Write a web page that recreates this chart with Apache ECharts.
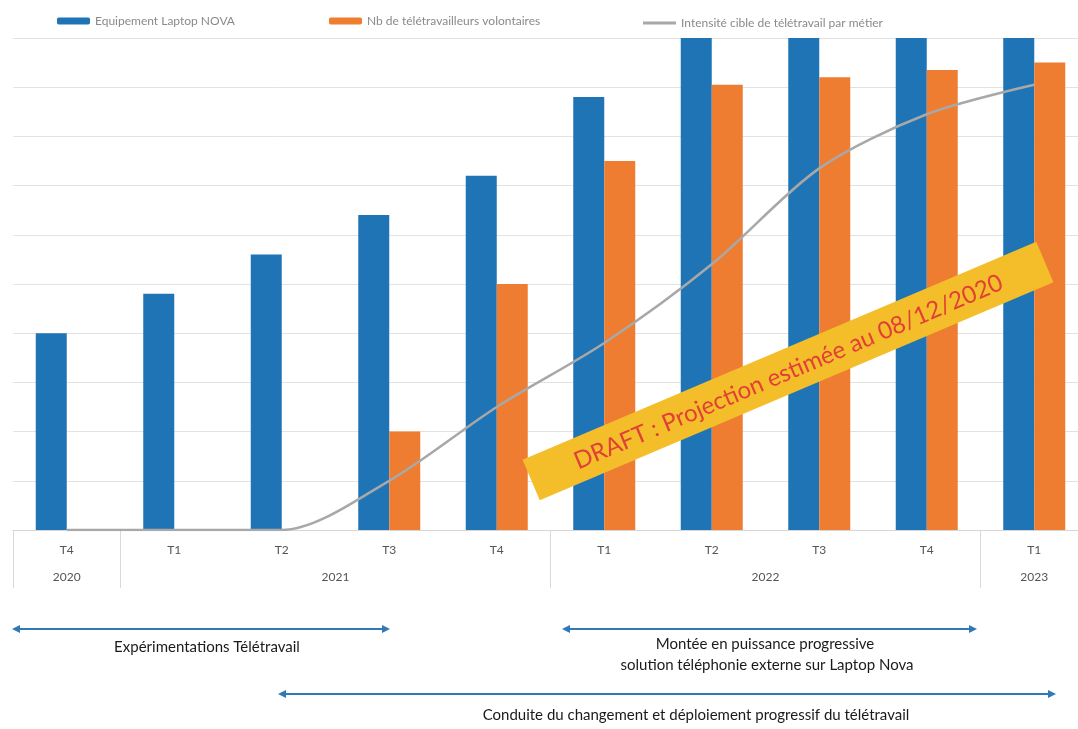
<!DOCTYPE html>
<html>
<head>
<meta charset="utf-8">
<script src="https://cdn.jsdelivr.net/npm/echarts@6/dist/echarts.min.js"></script>
<style>
  html, body { margin: 0; padding: 0; background: #fff; }
  #chart { width: 1078px; height: 729px; }
</style>
</head>
<body>
<div id="chart"></div>
<script>
// trimestres (axe du bas)
const quarters = ['T4', 'T1', 'T2', 'T3', 'T4', 'T1', 'T2', 'T3', 'T4', 'T1'];
// ligne des années : 21 demi-pas, libellé au centre de chaque groupe
const yearLabels = ['', '2020', '', '', '', '', '2021', '', '', '', '', '', '', '', '2022', '', '', '', '', '2023', ''];
const yearBounds = [0, 2, 10, 18, 20];

// valeurs (échelle 0-10, les 4 dernières barres bleues dépassent le cadre)
const laptopNova = [4.0, 4.8, 5.6, 6.4, 7.2, 8.8, 10.4, 12.0, 13.6, 15.2];
const volontaires = [null, null, null, 2.0, 5.0, 7.5, 9.05, 9.2, 9.35, 9.5];
const intensite = [0, 0, 0, 1.0, 2.5, 3.8, 5.4, 7.35, 8.45, 9.05];

const seriesNames = [
  'Equipement Laptop NOVA',
  'Nb de télétravailleurs volontaires',
  'Intensité cible de télétravail par métier'
];

const BLUE = '#1f74b6';
const ORANGE = '#ee7d31';
const GREY_LINE = '#a8a8a8';
const ARROW = '#2f79b8';
const FONT = 'Lato, "Open Sans", sans-serif';

// flèche double pour les phases
function arrow(x1, x2, y) {
  return {
    type: 'group',
    children: [
      { type: 'line', shape: { x1: x1 + 5, y1: y, x2: x2 - 5, y2: y }, style: { stroke: ARROW, lineWidth: 2 } },
      { type: 'polygon', shape: { points: [[x1, y], [x1 + 8, y - 4], [x1 + 8, y + 4]] }, style: { fill: ARROW } },
      { type: 'polygon', shape: { points: [[x2, y], [x2 - 8, y - 4], [x2 - 8, y + 4]] }, style: { fill: ARROW } }
    ]
  };
}

function label(text, x, y) {
  return {
    type: 'text',
    x: x,
    y: y,
    style: { text: text, fill: '#1a1a1a', font: '15px ' + FONT, align: 'center', verticalAlign: 'middle' }
  };
}

const legendBase = {
  top: 10,
  itemWidth: 33,
  itemHeight: 7,
  textStyle: { color: '#8a8a8a', fontSize: 12, fontFamily: FONT }
};

const chart = echarts.init(document.getElementById('chart'));

const option = {
  backgroundColor: '#fff',
  animation: false,
  legend: [
    Object.assign({}, legendBase, { left: 52, data: [seriesNames[0]] }),
    Object.assign({}, legendBase, { left: 324, data: [seriesNames[1]] }),
    Object.assign({}, legendBase, { left: 638, top: 12, itemHeight: 3, data: [{ name: seriesNames[2], icon: 'rect' }] })
  ],
  grid: {
    left: 13,
    width: 1075,
    top: 38,
    height: 492,
    outerBoundsMode: 'none'
  },
  xAxis: [
    {
      type: 'category',
      data: quarters,
      position: 'bottom',
      axisLine: { lineStyle: { color: '#d6d6d6', width: 1 } },
      axisTick: { show: false },
      axisLabel: { margin: 14, color: '#555', fontSize: 12, fontFamily: FONT }
    },
    {
      type: 'category',
      data: yearLabels,
      boundaryGap: false,
      position: 'bottom',
      axisLine: { show: false },
      axisTick: {
        show: true,
        length: 58,
        interval: (idx) => yearBounds.includes(idx),
        lineStyle: { color: '#d9d9d9', width: 1 }
      },
      axisLabel: { interval: 0, margin: 41, color: '#555', fontSize: 12, fontFamily: FONT }
    }
  ],
  yAxis: {
    type: 'value',
    min: 0,
    max: 10,
    interval: 1,
    axisLine: { show: false },
    axisTick: { show: false },
    axisLabel: { show: false },
    splitLine: { lineStyle: { color: '#e2e2e2', width: 1 } }
  },
  series: [
    {
      name: seriesNames[0],
      type: 'bar',
      data: laptopNova,
      barWidth: 31,
      barGap: '0%',
      itemStyle: { color: BLUE }
    },
    {
      name: seriesNames[1],
      type: 'bar',
      data: volontaires,
      barWidth: 31,
      barGap: '0%',
      itemStyle: { color: ORANGE }
    },
    {
      name: seriesNames[2],
      type: 'line',
      data: intensite,
      smooth: 0.3,
      symbol: 'none',
      lineStyle: { color: GREY_LINE, width: 2.5 },
      itemStyle: { color: GREY_LINE },
      z: 5
    }
  ],
  graphic: [
    // bandeau DRAFT
    {
      type: 'group',
      x: 788,
      y: 371,
      rotation: 23 * Math.PI / 180,
      children: [
        { type: 'rect', z: 100, shape: { x: -279, y: -22, width: 558, height: 44 }, style: { fill: '#f4be2b' } },
        {
          type: 'text',
          z: 101,
          x: 0,
          y: 1,
          style: {
            text: 'DRAFT : Projection estimée au 08/12/2020',
            fill: '#e23f36',
            font: '24px ' + FONT,
            align: 'center',
            verticalAlign: 'middle'
          }
        }
      ]
    },
    // phases
    arrow(12, 390, 629),
    arrow(562, 977, 629),
    arrow(278, 1056, 694),
    label('Expérimentations Télétravail', 207, 647),
    label('Montée en puissance progressive', 765, 644),
    label('solution téléphonie externe sur Laptop Nova', 767, 665),
    label('Conduite du changement et déploiement progressif du télétravail', 696, 715)
  ]
};

chart.setOption(option);
</script>
</body>
</html>
